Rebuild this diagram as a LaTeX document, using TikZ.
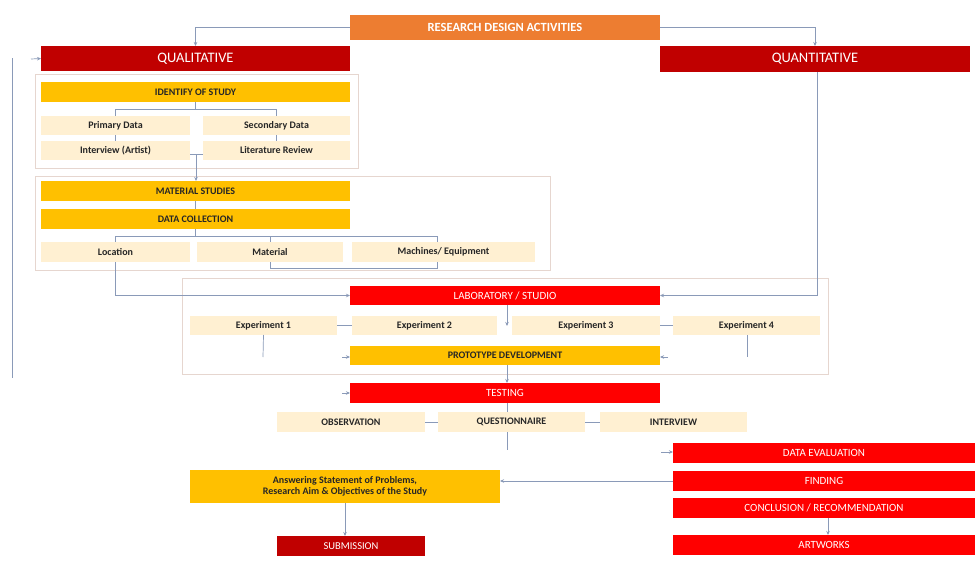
\documentclass[tikz,border=0pt]{standalone}
\usepackage{fontspec}
\setmainfont{Carlito}
\usetikzlibrary{arrows.meta,positioning,calc}
\definecolor{orng}{HTML}{ED7D31}
\definecolor{dred}{HTML}{C00000}
\definecolor{bred}{HTML}{FF0000}
\definecolor{yel}{HTML}{FFC000}
\definecolor{lite}{HTML}{FFF0D2}
\definecolor{ln}{HTML}{8A9AB8}
\definecolor{grp}{HTML}{E6D6CF}
\tikzset{
  base/.style={inner sep=0pt, outer sep=0pt, align=center, minimum height=20pt},
  orbox/.style={base, fill=orng, text=white, font=\bfseries\fontsize{12.5}{13}\selectfont},
  drbox/.style={base, fill=dred, text=white, font=\fontsize{14.5}{15}\selectfont},
  subbox/.style={base, fill=dred, text=white, font=\fontsize{10.5}{11}\selectfont},
  rdbox/.style={base, fill=bred, text=white, font=\fontsize{11}{12}\selectfont},
  ybox/.style={base, fill=yel, text=black!85, font=\bfseries\fontsize{10}{11}\selectfont},
  lbox/.style={base, fill=lite, text=black!85, font=\bfseries\fontsize{10}{11}\selectfont},
  grpbox/.style={draw=grp, line width=0.6pt},
  conn/.style={draw=ln, line width=0.7pt},
  arr/.style={conn, -{Stealth[length=4pt,width=3.5pt]}},
}
\begin{document}
\begin{tikzpicture}[x=1pt,y=-1pt]
\useasboundingbox[fill=white] (0,0) rectangle (975,562);

% group frames
\draw[grpbox] (35,74) rectangle (358,168);
\draw[grpbox] (35,176) rectangle (550,270);
\draw[grpbox] (182,278) rectangle (828,374);

% top
\node[orbox, minimum width=310, minimum height=25] (rda) at (505,27.5) {RESEARCH DESIGN ACTIVITIES};
\node[drbox, minimum width=309, minimum height=25] (qual) at (195.5,58.5) {QUALITATIVE};
\node[drbox, minimum width=310, minimum height=26] (quan) at (815,59) {QUANTITATIVE};

% qualitative block
\node[ybox, minimum width=309] (idn) at (195.5,92) {IDENTIFY OF STUDY};
\node[lbox, minimum width=149, minimum height=19] (pdat) at (115.5,125.5) {Primary Data};
\node[lbox, minimum width=147, minimum height=19] (sdat) at (276.5,125.5) {Secondary Data};
\node[lbox, minimum width=149, minimum height=19] (intv) at (115.5,150.5) {Interview (Artist)};
\node[lbox, minimum width=147, minimum height=19] (litr) at (276.5,150.5) {Literature Review};

\node[ybox, minimum width=309] (mst) at (195.5,191) {MATERIAL STUDIES};
\node[ybox, minimum width=309] (dcol) at (195.5,219) {DATA COLLECTION};
\node[lbox, minimum width=149] (loc) at (115.5,252) {Location};
\node[lbox, minimum width=146] (mat) at (270,252) {Material};
\node[lbox, minimum width=183] (mach) at (443.5,252) {Machines/ Equipment};

% lab block
\node[rdbox, minimum width=310, minimum height=19] (lab) at (505,295.5) {LABORATORY / STUDIO};
\node[lbox, minimum width=147, minimum height=19] (ex1) at (263.5,325.5) {Experiment 1};
\node[lbox, minimum width=145, minimum height=19] (ex2) at (424.5,325.5) {Experiment 2};
\node[lbox, minimum width=148, minimum height=19] (ex3) at (586,325.5) {Experiment 3};
\node[lbox, minimum width=147, minimum height=19] (ex4) at (746.5,325.5) {Experiment 4};
\node[ybox, minimum width=310, minimum height=19] (proto) at (505,355.5) {PROTOTYPE DEVELOPMENT};
\node[rdbox, minimum width=310] (test) at (505,393) {TESTING};

\node[lbox, minimum width=148] (obs) at (351,422) {OBSERVATION};
\node[lbox, minimum width=147] (qst) at (511.5,422) {QUESTIONNAIRE};
\node[lbox, minimum width=147] (itw) at (673.5,422) {INTERVIEW};

% results
\node[rdbox, minimum width=302] (deval) at (824,453) {DATA EVALUATION};
\node[rdbox, minimum width=302] (find) at (824,481) {FINDING};
\node[rdbox, minimum width=302] (concl) at (824,508) {CONCLUSION / RECOMMENDATION};
\node[rdbox, minimum width=302] (artw) at (824,545) {ARTWORKS};

\node[ybox, minimum width=310, minimum height=33] (ans) at (345,486.5) {Answering Statement of Problems,\\Research Aim \& Objectives of the Study};
\node[subbox, minimum width=148] (sub) at (351,546) {SUBMISSION};

% free coordinates
\coordinate (lefttop) at (12,58);
\coordinate (leftbot) at (12,378);
\coordinate (qstub) at (31,59);
\coordinate (labdn) at (507,326);
\coordinate (e1dn) at (263,357);
\coordinate (e4dn) at (747,357);
\coordinate (pwst) at (342,357);
\coordinate (pest) at (668,357);
\coordinate (twst) at (342,393);
\coordinate (qdn) at (507,450);
\coordinate (destub) at (661,452);

% connectors
\draw[arr] (rda.west) -| (qual.north);
\draw[arr] (rda.east) -| (quan.north);
\draw[conn] (lefttop) -- (leftbot);
\draw[arr] (qstub) -- (qual.west);

\draw[conn] (idn.south) -- ++(0,7) coordinate (ib);
\draw[conn] (ib) -| (pdat.north);
\draw[conn] (ib) -| (sdat.north);
\draw[conn] (pdat.south) -- (intv.north);
\draw[conn] (sdat.south) -- (litr.north);
\draw[conn] (intv.east |- 0,154) -- (litr.west |- 0,154);
\draw[arr] (196,154) -- (mst.north -| 196,0);
\draw[conn] (mst.south) -- (dcol.north);

\draw[conn] (dcol.south) -- ++(0,7) coordinate (db);
\draw[conn] (db) -| (loc.north);
\draw[conn] (db) -| (mat.north);
\draw[conn] (db) -| (mach.north -| 437,0);
\draw[arr] (loc.south) |- (lab.west);
\draw[conn] (mat.south) |- (437,268) -- (mach.south -| 437,0);

\draw[arr] (quan.south -| 817,0) |- (lab.east);
\draw[arr] (lab.south -| 507,0) -- (labdn);
\draw[conn] (ex1.east) -- (ex2.west);
\draw[conn] (ex3.east) -- (ex4.west);
\draw[conn] (ex1.south) -- (e1dn);
\draw[conn] (ex4.south -| 747,0) -- (e4dn);
\draw[arr] (pwst) -- (proto.west |- pwst);
\draw[arr] (pest) -- (proto.east |- pest);
\draw[arr] (proto.south -| 507,0) -- (test.north -| 507,0);
\draw[arr] (twst) -- (test.west);

\draw[conn] (test.south -| 507,0) -- (qst.north -| 507,0);
\draw[conn] (obs.east) -- (qst.west);
\draw[conn] (qst.east) -- (itw.west);
\draw[conn] (qst.south -| 507,0) -- (qdn);
\draw[arr] (destub) -- (deval.west |- destub);
\draw[arr] (find.west) -- (find.west -| ans.east);
\draw[arr] (concl.south -| 828,0) -- (artw.north -| 828,0);
\draw[arr] (ans.south) -- (sub.north -| ans.south);
\end{tikzpicture}
\end{document}
